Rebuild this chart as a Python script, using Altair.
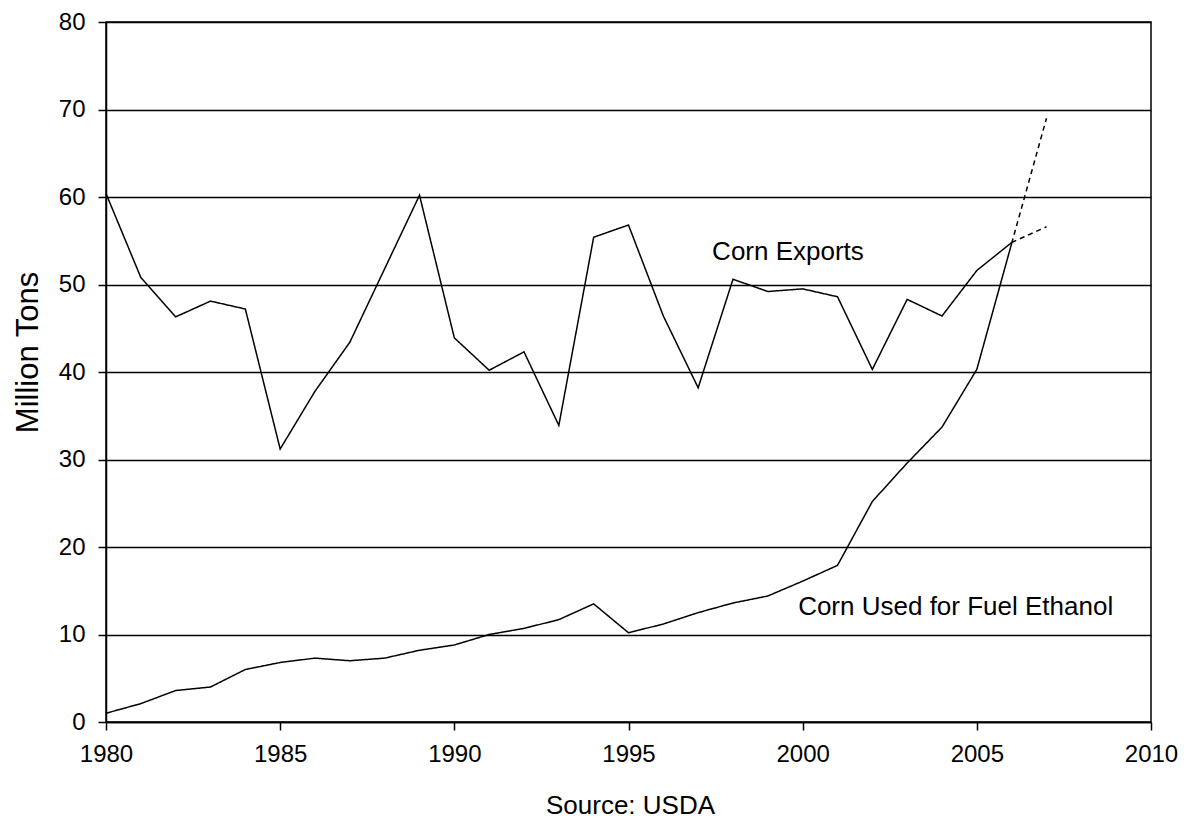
import altair as alt
import pandas as pd

years = list(range(1980, 2007))
corn_exports = [60.4, 50.8, 46.3, 48.1, 47.2, 31.2, 37.8, 43.4, 51.8, 60.2,
                43.9, 40.2, 42.3, 33.9, 55.4, 56.8, 46.4, 38.2, 50.6, 49.2,
                49.5, 48.6, 40.3, 48.3, 46.4, 51.6, 54.8]
corn_ethanol = [1.0, 2.1, 3.6, 4.0, 6.0, 6.8, 7.3, 7.0, 7.3, 8.2,
                8.8, 10.0, 10.7, 11.7, 13.5, 10.2, 11.2, 12.5, 13.6, 14.4,
                16.1, 17.9, 25.2, 29.6, 33.7, 40.3, 54.7]
proj_year = 2007
proj_exports = 56.6
proj_ethanol = 69.0

label_texts = ["Corn Exports", "Corn Used for Fuel Ethanol"]
label_years = [1997.4, 1999.87]
label_values = [52.8, 12.2]

x_ticks = [1980, 1985, 1990, 1995, 2000, 2005, 2010]
y_ticks = [0, 10, 20, 30, 40, 50, 60, 70, 80]

rows = []
for y, v in zip(years, corn_exports):
    rows.append({"year": y, "value": v, "series": "Exports", "seg": "actual"})
for y, v in zip(years, corn_ethanol):
    rows.append({"year": y, "value": v, "series": "Ethanol", "seg": "actual"})
rows.append({"year": years[-1], "value": corn_exports[-1], "series": "Exports", "seg": "proj"})
rows.append({"year": proj_year, "value": proj_exports, "series": "Exports", "seg": "proj"})
rows.append({"year": years[-1], "value": corn_ethanol[-1], "series": "Ethanol", "seg": "proj"})
rows.append({"year": proj_year, "value": proj_ethanol, "series": "Ethanol", "seg": "proj"})
df = pd.DataFrame(rows)
df["key"] = df["series"] + "_" + df["seg"]

labels = pd.DataFrame({"text": label_texts, "year": label_years, "value": label_values})

FONT = "Liberation Sans"

x_scale = alt.Scale(domain=[1980, 2010], nice=False, zero=False)
y_scale = alt.Scale(domain=[0, 80], nice=False)

lines = alt.Chart(df).mark_line(color="black", strokeWidth=1.5).encode(
    x=alt.X("year:Q", scale=x_scale,
            axis=alt.Axis(values=x_ticks, format="d", grid=False, title="Source: USDA",
                          tickSize=8, labelPadding=12, labelFontSize=24, labelFont=FONT,
                          labelFlush=False, labelOverlap=False, labelBound=False,
                          labelColor="black", tickColor="black", domainColor="black",
                          domainWidth=1.5, tickWidth=1.5,
                          titleFont=FONT, titleFontSize=26, titleFontWeight="normal",
                          titleColor="black", titleX=524, titleY=91,
                          titleBaseline="alphabetic", titleAlign="center")),
    y=alt.Y("value:Q", scale=y_scale,
            axis=alt.Axis(values=y_ticks, grid=True, gridColor="black", gridWidth=1.5,
                          gridOpacity=1, title="Million Tons",
                          tickSize=8, labelPadding=13, labelFontSize=24, labelFont=FONT,
                          labelFlush=False, labelOverlap=False, labelBound=False,
                          labelColor="black", tickColor="black", domainColor="black",
                          domainWidth=1.5, tickWidth=1.5,
                          titleFont=FONT, titleFontSize=31, titleFontWeight="normal",
                          titleColor="black", titleX=-69, titleY=330, titleAngle=-90,
                          titleBaseline="alphabetic", titleAlign="center")),
    detail="key:N",
    strokeDash=alt.StrokeDash("seg:N", scale=alt.Scale(domain=["actual", "proj"],
                                                        range=[[1, 0], [5, 4]]), legend=None),
)

text = alt.Chart(labels).mark_text(align="left", baseline="alphabetic", font=FONT,
                                    fontSize=26, color="black").encode(
    x=alt.X("year:Q", scale=x_scale),
    y=alt.Y("value:Q", scale=y_scale),
    text="text:N",
)

chart = (lines + text).properties(
    width=1045, height=700,
    autosize=alt.AutoSizeParams(type="none"),
    padding={"left": 98, "top": 14, "right": 28, "bottom": 98},
    background="white",
).configure_view(stroke="black", strokeWidth=1.5)

chart.save("out.html", embed_options={"renderer": "svg", "actions": False})
